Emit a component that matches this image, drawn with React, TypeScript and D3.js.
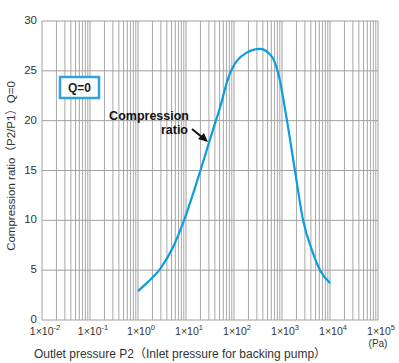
import React from "react";
import * as d3 from "d3";

const pressure = [1, 1.55, 2.87, 5.35, 9.1, 20, 36, 51, 76, 180, 350, 620, 830, 1260, 1860, 2750, 4200, 6200, 10000];
const ratio = [2.9, 3.75, 5.1, 7.3, 10, 15, 19, 21.3, 24.3, 26.8, 27.2, 26.4, 24.8, 20.1, 15, 10, 7, 5, 3.7];
const xExponents = [-2, -1, 0, 1, 2, 3, 4, 5];
const yTicks = [0, 5, 10, 15, 20, 25, 30];

const W = 399, H = 363;
const L = 42, R = 378, T = 21, B = 320;
const font = "'Liberation Sans', Arial, 'Noto Sans CJK JP', sans-serif";

export default function App() {
  const x = d3.scaleLog().domain([1e-2, 1e5]).range([L, R]);
  const y = d3.scaleLinear().domain([0, 30]).range([B, T]);

  const minor: number[] = [];
  for (let e = -2; e < 5; e++) {
    for (let m = 2; m <= 9; m++) minor.push(m * Math.pow(10, e));
  }
  const pts: [number, number][] = pressure.map((p, i) => [x(p), y(ratio[i])]);
  const line = d3.line().curve(d3.curveMonotoneX)(pts) || "";

  return (
    <svg width={W} height={H} style={{ position: "absolute", left: 0, top: 0 }} fontFamily={font}>
      <rect width={W} height={H} fill="#fff" />
      {minor.map((v, i) => (
        <line key={"m" + i} x1={x(v)} x2={x(v)} y1={T} y2={B} stroke="#a8a8a8" strokeWidth={1} />
      ))}
      {xExponents.map((e) => (
        <line key={"M" + e} x1={x(Math.pow(10, e))} x2={x(Math.pow(10, e))} y1={T} y2={B} stroke="#a0a0a0" strokeWidth={1} />
      ))}
      {yTicks.map((t) => (
        <line key={"h" + t} x1={L} x2={R} y1={y(t)} y2={y(t)} stroke="#a0a0a0" strokeWidth={1} />
      ))}
      {yTicks.map((t) => (
        <text key={"yt" + t} x={37} y={y(t) + 3} textAnchor="end" fontSize={11.5} fill="#333">{t}</text>
      ))}
      {xExponents.map((e) => (
        <text key={"xt" + e} x={x(Math.pow(10, e)) + 3} y={335} textAnchor="middle" fontSize={10.5} fill="#333">
          1×10<tspan dy={-5} fontSize={7.5}>{e}</tspan>
        </text>
      ))}
      <text x={378} y={347} textAnchor="middle" fontSize={10} fill="#333">(Pa)</text>
      <text x={180} y={358} textAnchor="middle" fontSize={12} fill="#333">Outlet pressure P2（Inlet pressure for backing pump）</text>
      <text transform={`translate(15,166) rotate(-90)`} textAnchor="middle" fontSize={11.5} fill="#333">Compression ratio（P2/P1）Q=0</text>

      <path d={line} fill="none" stroke="#0a9de0" strokeWidth={2.2} />

      <rect x={60} y={77} width={39} height={21} fill="#fff" stroke="#2fa4dc" strokeWidth={2.5} />
      <text x={79.5} y={92} textAnchor="middle" fontSize={12} fontWeight="bold" fill="#222">Q=0</text>

      <text x={189} y={120} textAnchor="end" fontSize={12.5} fontWeight="bold" fill="#111">Compression</text>
      <text x={188} y={134} textAnchor="end" fontSize={12.5} fontWeight="bold" fill="#111">ratio</text>
      <line x1={192} y1={129} x2={203} y2={138} stroke="#111" strokeWidth={2} />
      <path d="M208,142 L198,139 L204,133 Z" fill="#111" />
    </svg>
  );
}
